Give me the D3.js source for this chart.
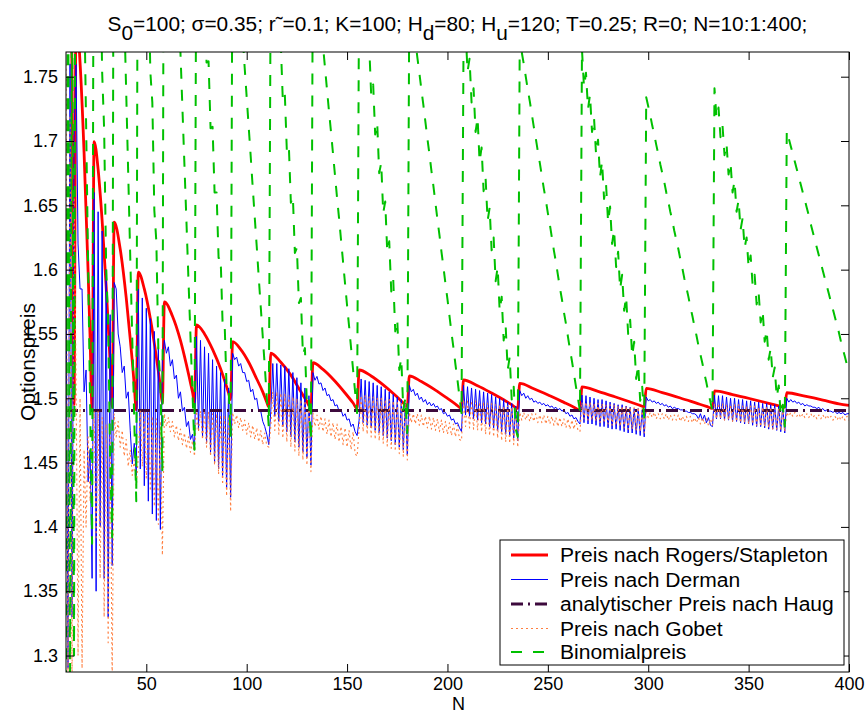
<!DOCTYPE html>
<html><head><meta charset="utf-8">
<script src="https://cdn.jsdelivr.net/npm/d3@7/dist/d3.min.js"></script>
<style>body{margin:0;background:#fff}svg{display:block}</style>
</head><body>
<svg id="chart" width="866" height="714"></svg>
<script>
// ---------------- data ----------------
const nStart = 10, nEnd = 400;                 // N = 10:1:400
const N = d3.range(nStart, nEnd + 1);
const xTicks = [50, 100, 150, 200, 250, 300, 350, 400];
const yTicks = [1.3, 1.35, 1.4, 1.45, 1.5, 1.55, 1.6, 1.65, 1.7, 1.75];
const legendLabels = ["Preis nach Rogers/Stapleton", "Preis nach Derman",
  "analytischer Preis nach Haug", "Preis nach Gobet", "Binomialpreis"];

// analytic price (Haug), constant
const haug = [[10, 1.4905], [400, 1.4905]];

// Rogers/Stapleton: [N, price] read at peaks, troughs and along each arc
const rogersStapleton = [
 [10,1.95],[11,1.91],[12,1.85],[13,1.75],[14,1.495],
 [15,1.80],[17,1.761],[19,1.691],[21,1.599],[22,1.547],[23,1.491],
 [24,1.6995],[26,1.678],[28,1.638],[30,1.587],[31,1.558],[32,1.527],[33,1.493],
 [34,1.637],[37,1.616],[40,1.578],[42,1.546],[43,1.529],[44,1.510],[45,1.491],
 [46,1.598],[49,1.585],[52,1.562],[55,1.532],[57,1.509],[58,1.496],
 [59,1.575],[63,1.564],[67,1.545],[70,1.526],[72,1.512],[73,1.505],[74,1.497],
 [75,1.557],[79,1.550],[83,1.538],[87,1.523],[90,1.509],[91,1.504],[92,1.499],
 [93,1.544],[97,1.538],[101,1.528],[105,1.515],[108,1.505],[110,1.497],[111,1.4934],
 [112,1.535],[117,1.528],[122,1.518],[127,1.505],[130,1.4975],[132,1.492],
 [133,1.5276],[138,1.5224],[144,1.5132],[149,1.5041],[153,1.4963],[155,1.492],
 [156,1.522],[162,1.5173],[168,1.5104],[174,1.5023],[178,1.4964],[180,1.4934],
 [181,1.5173],[187,1.513],[194,1.5063],[200,1.4999],[204,1.4955],[207,1.4921],
 [208,1.5142],[215,1.5098],[222,1.5041],[228,1.4988],[232,1.495],[235,1.4921],
 [236,1.5116],[243,1.5074],[251,1.5019],[258,1.4968],[263,1.4931],[266,1.4908],
 [267,1.5089],[275,1.5054],[283,1.5014],[290,1.4977],[295,1.495],[298,1.4934],
 [299,1.5077],[307,1.5044],[316,1.5002],[324,1.4962],[329,1.4937],[332,1.4921],
 [333,1.5058],[342,1.5029],[351,1.4996],[360,1.4961],[365,1.4941],[368,1.4929],
 [369,1.5043],[378,1.5016],[387,1.4986],[395,1.4957],[400,1.4945]
];

// Derman: one value per N (10..400)
const derman = [
 1.62,1.29,1.76,1.33,1.70,
 1.76,1.62,1.585,1.585,1.505,1.522,1.435,1.46,1.36,
 1.66,1.35,1.645,1.40,1.63,1.36,1.60,1.33,1.565,1.37,
 1.59,1.585,1.55,1.54,1.52,1.525,1.50,1.505,1.475,1.449,1.465,1.44,
 1.585,1.445,1.578,1.432,1.570,1.42,1.562,1.41,1.552,1.405,1.54,1.398,1.53,
 1.545,1.535,1.54,1.525,1.53,1.515,1.518,1.50,1.505,1.49,1.493,1.478,1.482,1.468,1.472,1.46,
 1.548,1.475,1.545,1.47,1.54,1.465,1.535,1.458,1.53,1.45,1.525,1.445,1.52,1.44,1.515,1.43,1.508,1.423,
 1.535,1.53,1.532,1.525,1.527,1.52,1.52,1.513,1.514,1.505,1.507,1.499,1.50,1.49,1.49,1.482,1.478,1.472,1.464,
 1.49,1.527,1.486,1.527,1.482,1.526,1.478,1.525,1.474,1.523,1.470,1.520,1.466,1.516,1.462,1.512,1.458,1.508,1.454,1.502,1.448,
 1.520,1.514,1.517,1.511,1.512,1.506,1.508,1.502,1.503,1.498,1.499,1.494,1.495,1.490,1.491,1.486,1.488,1.483,1.484,1.478,1.480,1.474,1.471,
 1.483,1.515,1.481,1.514,1.479,1.513,1.477,1.512,1.475,1.510,1.473,1.509,1.471,1.507,1.469,1.505,1.467,1.503,1.464,1.501,1.462,1.499,1.460,1.496,1.456,
 1.510,1.505,1.507,1.502,1.504,1.499,1.501,1.497,1.499,1.495,1.497,1.494,1.496,1.493,1.494,1.491,1.492,1.488,1.489,1.486,1.487,1.483,1.484,1.480,1.481,1.477,1.474,
 1.510,1.487,1.509,1.486,1.508,1.484,1.507,1.483,1.506,1.481,1.505,1.480,1.504,1.478,1.503,1.477,1.501,1.475,1.500,1.474,1.499,1.472,1.497,1.471,1.496,1.469,1.494,1.467,
 1.506,1.502,1.504,1.500,1.502,1.499,1.500,1.497,1.498,1.496,1.497,1.495,1.496,1.494,1.495,1.493,1.494,1.492,1.493,1.491,1.492,1.490,1.491,1.488,1.489,1.486,1.487,1.484,1.485,1.482,1.480,
 1.5025,1.481,1.502,1.480,1.501,1.480,1.500,1.479,1.499,1.478,1.499,1.478,1.498,1.477,1.497,1.476,1.496,1.476,1.495,1.475,1.495,1.474,1.494,1.473,1.493,1.473,1.492,1.472,1.492,1.471,1.491,1.470,
 1.501,1.498,1.499,1.497,1.498,1.496,1.497,1.495,1.496,1.494,1.495,1.493,1.494,1.492,1.493,1.492,1.492,1.491,1.491,1.490,1.490,1.489,1.489,1.488,1.488,1.487,1.484,1.488,1.483,1.487,1.481,1.485,1.479,1.478,
 1.5025,1.484,1.502,1.484,1.502,1.483,1.501,1.483,1.500,1.482,1.500,1.482,1.499,1.481,1.499,1.480,1.498,1.480,1.498,1.479,1.497,1.478,1.497,1.478,1.496,1.477,1.496,1.476,1.495,1.476,1.495,1.475,1.494,1.474,1.494,1.473,
 1.500,1.497,1.499,1.497,1.498,1.496,1.497,1.495,1.496,1.494,1.495,1.494,1.494,1.493,1.493,1.492,1.493,1.491,1.492,1.490,1.491,1.490,1.490,1.489,1.490,1.488,1.489,1.488,1.489,1.487,1.488,1.488
];

// Gobet: one value per N (10..400)
const gobet = [
 1.76,1.28,1.72,1.27,1.66,
 1.52,1.30,1.50,1.29,1.46,1.40,1.47,1.42,1.45,
 1.49,1.39,1.49,1.36,1.485,1.33,1.48,1.31,1.475,1.28,
 1.488,1.47,1.482,1.462,1.475,1.455,1.468,1.447,1.46,1.44,1.452,1.43,
 1.455,1.49,1.447,1.489,1.438,1.488,1.428,1.486,1.416,1.484,1.402,1.482,1.378,
 1.488,1.478,1.485,1.474,1.482,1.470,1.479,1.467,1.476,1.464,1.473,1.461,1.470,1.458,1.467,1.455,
 1.49,1.474,1.49,1.468,1.489,1.462,1.489,1.455,1.488,1.448,1.488,1.441,1.487,1.433,1.487,1.424,1.486,1.412,
 1.489,1.480,1.487,1.477,1.485,1.475,1.483,1.472,1.481,1.470,1.479,1.468,1.477,1.466,1.475,1.464,1.473,1.463,1.462,
 1.478,1.505,1.475,1.505,1.472,1.504,1.469,1.503,1.466,1.502,1.462,1.501,1.459,1.500,1.455,1.499,1.452,1.498,1.448,1.497,1.443,
 1.489,1.478,1.487,1.476,1.486,1.474,1.484,1.472,1.483,1.470,1.481,1.468,1.480,1.466,1.478,1.464,1.477,1.462,1.475,1.460,1.474,1.457,1.455,
 1.476,1.502,1.474,1.502,1.472,1.501,1.470,1.501,1.468,1.500,1.467,1.500,1.465,1.499,1.463,1.499,1.461,1.498,1.459,1.498,1.457,1.497,1.455,1.496,1.452,
 1.489,1.481,1.488,1.480,1.488,1.479,1.487,1.478,1.486,1.477,1.486,1.476,1.485,1.475,1.484,1.474,1.483,1.473,1.482,1.472,1.481,1.471,1.480,1.470,1.479,1.468,1.467,
 1.499,1.478,1.499,1.477,1.498,1.476,1.498,1.475,1.497,1.474,1.497,1.472,1.496,1.471,1.496,1.470,1.495,1.469,1.495,1.467,1.494,1.466,1.494,1.465,1.493,1.464,1.493,1.462,
 1.489,1.483,1.489,1.483,1.488,1.482,1.488,1.482,1.488,1.481,1.487,1.481,1.487,1.480,1.486,1.480,1.486,1.479,1.485,1.478,1.485,1.478,1.484,1.477,1.484,1.476,1.483,1.476,1.483,1.475,1.474,
 1.497,1.484,1.497,1.483,1.497,1.483,1.496,1.482,1.496,1.481,1.496,1.481,1.495,1.480,1.495,1.479,1.495,1.479,1.494,1.478,1.494,1.477,1.494,1.476,1.493,1.476,1.493,1.475,1.493,1.474,1.492,1.473,
 1.489,1.485,1.489,1.485,1.489,1.484,1.488,1.484,1.488,1.484,1.488,1.483,1.487,1.483,1.487,1.483,1.487,1.482,1.486,1.482,1.486,1.482,1.486,1.481,1.485,1.481,1.485,1.480,1.485,1.480,1.484,1.479,1.484,1.479,
 1.496,1.484,1.496,1.484,1.496,1.483,1.495,1.483,1.495,1.482,1.495,1.482,1.495,1.481,1.494,1.481,1.494,1.480,1.494,1.480,1.494,1.479,1.493,1.478,1.493,1.478,1.493,1.477,1.493,1.476,1.492,1.476,1.492,1.475,1.492,1.474,
 1.489,1.486,1.489,1.486,1.489,1.486,1.488,1.485,1.488,1.485,1.488,1.485,1.488,1.485,1.487,1.484,1.487,1.484,1.487,1.484,1.487,1.484,1.486,1.483,1.486,1.483,1.486,1.483,1.486,1.483,1.486,1.483
];

// Binomial price: one value per N (10..400); values above the axis run off the top
const binomial = [
 1.28,1.90,1.27,1.85,1.30,
 2.26,2.15,2.04,1.93,1.82,1.715,1.605,1.496,1.387,
 2.055,2.01,1.905,1.859,1.754,1.709,1.603,1.558,1.452,1.392,
 2.118,2.055,1.991,1.928,1.864,1.801,1.737,1.674,1.610,1.547,1.483,1.42,
 2.078,2.054,1.970,1.946,1.862,1.838,1.754,1.730,1.646,1.622,1.537,1.513,1.444,
 2.122,2.078,2.034,1.990,1.946,1.901,1.857,1.813,1.769,1.725,1.681,1.637,1.592,1.548,1.504,1.46,
 1.914,1.862,1.863,1.812,1.812,1.761,1.762,1.710,1.711,1.660,1.660,1.609,1.610,1.558,1.559,1.508,1.508,1.47,
 1.897,1.874,1.85,1.827,1.804,1.781,1.757,1.734,1.711,1.688,1.664,1.641,1.618,1.594,1.571,1.548,1.525,1.501,1.478,
 1.850,1.854,1.810,1.814,1.771,1.775,1.731,1.736,1.692,1.696,1.652,1.657,1.613,1.617,1.574,1.578,1.534,1.539,1.495,1.499,1.4675,
 1.858,1.841,1.824,1.808,1.791,1.774,1.757,1.740,1.723,1.707,1.690,1.673,1.656,1.640,1.623,1.606,1.589,1.572,1.556,1.539,1.522,1.505,1.4885,
 1.827,1.836,1.797,1.805,1.766,1.775,1.736,1.744,1.705,1.714,1.675,1.683,1.644,1.653,1.614,1.622,1.583,1.592,1.552,1.561,1.522,1.531,1.491,1.500,1.473,
 1.816,1.803,1.790,1.778,1.765,1.753,1.740,1.728,1.715,1.702,1.690,1.677,1.665,1.652,1.639,1.627,1.614,1.602,1.589,1.577,1.564,1.551,1.539,1.526,1.514,1.501,1.4885,
 1.777,1.787,1.754,1.764,1.730,1.741,1.707,1.718,1.684,1.695,1.661,1.671,1.638,1.648,1.615,1.625,1.591,1.602,1.568,1.579,1.545,1.556,1.522,1.532,1.499,1.509,1.476,1.47,
 1.779,1.769,1.760,1.750,1.740,1.731,1.721,1.711,1.702,1.692,1.683,1.673,1.663,1.654,1.644,1.635,1.625,1.615,1.606,1.596,1.586,1.577,1.567,1.558,1.548,1.538,1.529,1.519,1.509,1.500,1.490,
 1.771,1.742,1.753,1.725,1.736,1.707,1.718,1.690,1.701,1.672,1.684,1.655,1.666,1.637,1.649,1.620,1.631,1.602,1.614,1.585,1.596,1.568,1.579,1.550,1.561,1.533,1.544,1.515,1.526,1.498,1.509,1.485,
 1.734,1.727,1.720,1.712,1.705,1.697,1.690,1.682,1.675,1.668,1.660,1.653,1.645,1.638,1.630,1.623,1.616,1.608,1.601,1.593,1.586,1.579,1.571,1.564,1.556,1.549,1.541,1.534,1.527,1.519,1.512,1.504,1.497,1.490,
 1.741,1.718,1.726,1.703,1.712,1.689,1.698,1.674,1.683,1.660,1.669,1.645,1.654,1.631,1.640,1.617,1.625,1.602,1.611,1.588,1.596,1.573,1.582,1.559,1.568,1.544,1.553,1.530,1.539,1.516,1.524,1.501,1.510,1.487,1.495,1.478,
 1.708,1.702,1.696,1.690,1.684,1.678,1.672,1.666,1.660,1.654,1.648,1.642,1.635,1.629,1.623,1.617,1.611,1.605,1.599,1.593,1.587,1.581,1.575,1.569,1.563,1.557,1.551,1.544,1.538,1.532,1.526,1.520
];

// ---------------- chart ----------------
const svg = d3.select("#chart");
const FONT = "'Liberation Sans', Arial, Helvetica, sans-serif";
const plot = {l: 66, r: 849, t: 52, b: 672};
const x = d3.scaleLinear().domain([10, 400]).range([plot.l, plot.r]);
const y = d3.scaleLinear().domain([1.2872, 1.7692]).range([plot.b, plot.t]);

svg.append("rect").attr("width", 866).attr("height", 714).attr("fill", "#fff");

svg.append("defs").append("clipPath").attr("id", "clip")
  .append("rect").attr("x", plot.l).attr("y", plot.t)
  .attr("width", plot.r - plot.l).attr("height", plot.b - plot.t);

const pairs = arr => arr.map((v, i) => [N[i], v]);
const line = d3.line().x(d => x(d[0])).y(d => y(d[1]));
const smooth = d3.line().x(d => x(d[0])).y(d => y(d[1])).curve(d3.curveMonotoneX);

const styles = {
  rs:    {stroke: "#ff0000", width: 2.8, dash: null},
  derm:  {stroke: "#0000ff", width: 1, dash: null},
  haug:  {stroke: "#3d0a3d", width: 3, dash: "12,5,2,5"},
  gobet: {stroke: "#ff7f40", width: 1.1, dash: "2,3"},
  binom: {stroke: "#00c000", width: 2, dash: "11,11"}
};

const g = svg.append("g").attr("clip-path", "url(#clip)");
function draw(data, st, gen) {
  g.append("path").attr("d", gen(data)).attr("fill", "none")
    .attr("stroke", st.stroke).attr("stroke-width", st.width)
    .attr("stroke-dasharray", st.dash).attr("stroke-linejoin", "round");
}
draw(rogersStapleton, styles.rs, smooth);
draw(pairs(derman), styles.derm, line);
draw(haug, styles.haug, line);
draw(pairs(gobet), styles.gobet, line);
draw(pairs(binomial), styles.binom, line);

// axes (ticks point inward, MATLAB style)
const fs = 18;
const axB = svg.append("g").attr("transform", `translate(0,${plot.b})`)
  .call(d3.axisBottom(x).tickValues(xTicks).tickSizeInner(-8).tickSizeOuter(0).tickPadding(5));
const axT = svg.append("g").attr("transform", `translate(0,${plot.t})`)
  .call(d3.axisTop(x).tickValues(xTicks).tickSizeInner(-8).tickSizeOuter(0).tickFormat(""));
const axL = svg.append("g").attr("transform", `translate(${plot.l},0)`)
  .call(d3.axisLeft(y).tickValues(yTicks).tickSizeInner(-8).tickSizeOuter(0).tickPadding(8)
    .tickFormat(d => String(+d.toFixed(2))));
const axR = svg.append("g").attr("transform", `translate(${plot.r},0)`)
  .call(d3.axisRight(y).tickValues(yTicks).tickSizeInner(-8).tickSizeOuter(0).tickFormat(""));
[axB, axT, axL, axR].forEach(a => {
  a.select(".domain").remove();
  a.selectAll("line").attr("stroke", "#000");
  a.selectAll("text").attr("font-family", FONT).attr("font-size", fs).attr("fill", "#000");
});
svg.append("rect").attr("x", plot.l).attr("y", plot.t)
  .attr("width", plot.r - plot.l).attr("height", plot.b - plot.t)
  .attr("fill", "none").attr("stroke", "#000").attr("stroke-width", 1);

// axis labels
svg.append("text").attr("x", (plot.l + plot.r) / 2 + 1).attr("y", 710)
  .attr("text-anchor", "middle").attr("font-family", FONT).attr("font-size", 18).text("N");
svg.append("text").attr("transform", "translate(35,362) rotate(-90)")
  .attr("text-anchor", "middle").attr("font-family", FONT).attr("font-size", 21).text("Optionspreis");

// title with subscripts
const title = svg.append("text").attr("x", (plot.l + plot.r) / 2).attr("y", 31)
  .attr("text-anchor", "middle").attr("font-family", "'Liberation Sans Narrow', " + FONT).attr("font-size", 20);
const parts = [["S", 0], ["0", 1], ["=100; σ=0.35; r", 0], ["˜", 0], ["=0.1; K=100; H", 0], ["d", 1],
  ["=80; H", 0], ["u", 1], ["=120; T=0.25; R=0; N=10:1:400;", 0]];
let prevSub = 0;
parts.forEach(([t, sub]) => {
  const ts = title.append("tspan").text(t);
  const shift = (sub ? 9 : 0) - (prevSub ? 9 : 0);
  if (shift) ts.attr("dy", shift);
  prevSub = sub;
});
const tw = title.node().getComputedTextLength();
title.attr("font-size", 20 * 700 / tw);

// legend
const lg = svg.append("g");
lg.append("rect").attr("x", 500).attr("y", 540).attr("width", 344).attr("height", 125)
  .attr("fill", "#fff").attr("stroke", "#000").attr("stroke-width", 1);
const legendStyles = [styles.rs, styles.derm, styles.haug, styles.gobet, styles.binom];
const rowY = [555, 579.5, 604, 628.5, 652];
legendLabels.forEach((lab, i) => {
  const st = legendStyles[i];
  lg.append("line").attr("x1", 511).attr("x2", 548).attr("y1", rowY[i]).attr("y2", rowY[i])
    .attr("stroke", st.stroke).attr("stroke-width", st.width).attr("stroke-dasharray", st.dash);
  lg.append("text").attr("class", "lt").attr("x", 560).attr("y", rowY[i]).attr("dy", "0.35em")
    .attr("font-family", FONT).attr("font-size", 20).text(lab);
});
const lw = lg.select(".lt").node().getComputedTextLength();
lg.selectAll(".lt").attr("font-size", 20 * 268 / lw);
</script>
</body></html>
